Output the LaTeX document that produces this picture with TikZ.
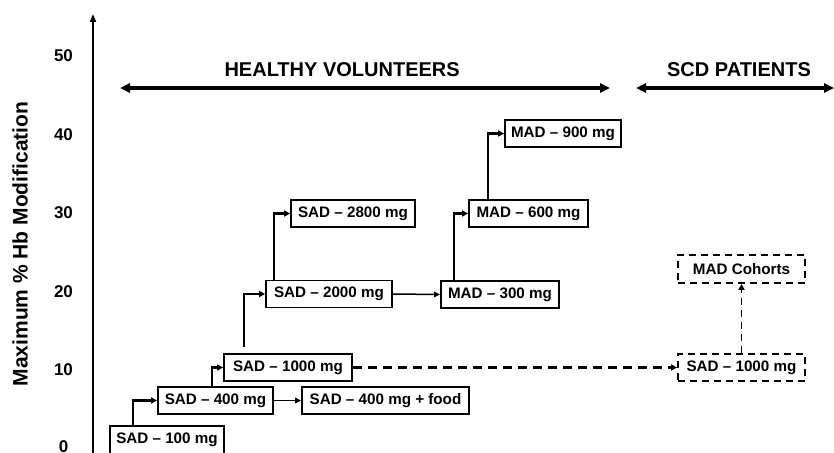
\documentclass[tikz,border=0pt]{standalone}
\usepackage{fontspec}
\setmainfont{Liberation Sans}
\usetikzlibrary{arrows.meta}
\begin{document}
\begin{tikzpicture}[x=1pt,y=-1pt,
  box/.style={draw=black,line width=1.8pt,inner sep=0pt,minimum height=27pt,
    font=\fontsize{15.2}{18}\selectfont\bfseries},
  dbox/.style={box,dash pattern=on 7pt off 5pt},
  elbow/.style={line width=2.5pt,-{Triangle[length=6pt,width=6pt]}},
  thin/.style={line width=1.5pt,-{Triangle[length=6pt,width=5.5pt]}},
  dline/.style={line width=2.2pt,dash pattern=on 9pt off 6pt,-{Triangle[length=6pt,width=6pt]}},
  big/.style={line width=3.2pt,{Triangle[length=10pt,width=9pt]}-{Triangle[length=10pt,width=9pt]}},
  tick/.style={font=\fontsize{17}{20}\selectfont\bfseries},
  head/.style={font=\fontsize{20}{24}\selectfont\bfseries}]
\useasboundingbox (0,0) rectangle (834,452);
\clip (0,0) rectangle (834,452);
% axis
\coordinate (ab) at (93,460);
\coordinate (at) at (93,14);
\draw[line width=1.8pt,-{Triangle[length=8pt,width=6pt]}] (ab) -- (at);
\node[rotate=90,font=\fontsize{21}{25}\selectfont\bfseries] (ylab) at (20,244) {Maximum \% Hb Modification};
\node[tick] (t50) at (63.5,56) {50};
\node[tick] (t40) at (63.5,134.4) {40};
\node[tick] (t30) at (63.5,212.8) {30};
\node[tick] (t20) at (63.5,291.2) {20};
\node[tick] (t10) at (63.5,369.6) {10};
\node[tick] (t0) at (63.5,446.5) {0};
% headers
\node[head,anchor=west] (hv) at (221,70) {HEALTHY VOLUNTEERS};
\node[head] (scd) at (739,70) {SCD PATIENTS};
\coordinate (h1) at (120,88);
\coordinate (h2) at (610,88);
\coordinate (s1) at (636,88);
\coordinate (s2) at (834,88);
\draw[big] (h1) -- (h2);
\draw[big] (s1) -- (s2);
% boxes
\node[box,minimum width=114pt,minimum height=28pt] (s100) at (167,440) {SAD -- 100 mg};
\node[box,minimum width=115pt] (s400) at (215.5,400.5) {SAD -- 400 mg};
\node[box,minimum width=167pt] (food) at (385.5,400.5) {SAD -- 400 mg + food};
\node[box,minimum width=128pt] (s1000) at (288,367.5) {SAD -- 1000 mg};
\node[box,minimum width=126pt] (s2000) at (329,294) {SAD -- 2000 mg};
\node[box,minimum width=124pt] (s2800) at (353,213.5) {SAD -- 2800 mg};
\node[box,minimum width=118pt] (m300) at (500,294.5) {MAD -- 300 mg};
\node[box,minimum width=119pt] (m600) at (528.5,213.5) {MAD -- 600 mg};
\node[box,minimum width=116pt] (m900) at (563,133.5) {MAD -- 900 mg};
\node[dbox,minimum width=127pt,minimum height=28pt] (mc) at (741.5,269) {MAD Cohorts};
\node[dbox,minimum width=127pt] (sd) at (741.5,367.5) {SAD -- 1000 mg};
% connectors
\draw[elbow] ([xshift=-34pt]s100.north) |- (s400.west);
\draw[elbow] ([xshift=-3.5pt]s400.north) |- (s1000.west);
\draw[elbow] ([xshift=-44pt,yshift=6pt]s1000.north) |- (s2000.west);
\draw[elbow] ([xshift=-55pt]s2000.north) |- (s2800.west);
\draw[elbow] ([xshift=-46pt]m300.north) |- (m600.west);
\draw[elbow] ([xshift=-40.5pt]m600.north) |- (m900.west);
\draw[thin] (s400.east) -- (food.west);
\draw[thin] (s2000.east) -- (m300.west);
\draw[dline] (s1000.east) -- (sd.west);
\draw[dline,dash pattern=on 7pt off 5pt,line width=1.8pt] (sd.north) -- (mc.south);
\end{tikzpicture}
\end{document}
